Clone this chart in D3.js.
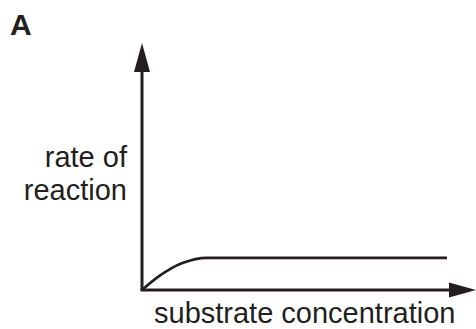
<!DOCTYPE html>
<html>
<head>
<meta charset="utf-8">
<script src="https://cdn.jsdelivr.net/npm/d3@7"></script>
<style>
  body { margin: 0; background: #fff; }
  svg { display: block; }
  text { font-family: "Liberation Sans", Arial, sans-serif; fill: #231f20; }
</style>
</head>
<body>
<div id="chart"></div>
<script>
// curve (arbitrary units)
var substrate = [0, 0.4, 0.7, 1.0, 1.3, 1.6, 1.95, 9.13];
var rate      = [0, 0.45, 0.73, 0.97, 1.13, 1.25, 1.3, 1.3];
var panelLabel = "A";
var yLabel = ["rate of", "reaction"];
var xLabel = "substrate concentration";

var W = 476, H = 329;
var ink = "#231f20";

var svg = d3.select("#chart").append("svg").attr("width", W).attr("height", H);

var x = d3.scaleLinear().domain([0, 10]).range([142, 476]);
var y = d3.scaleLinear().domain([0, 10]).range([290, 43]);

// axes with arrow heads
var g = svg.append("g");
g.append("line")
  .attr("x1", x(0)).attr("y1", y(0)).attr("x2", x(0)).attr("y2", y(10) + 20)
  .attr("stroke", ink).attr("stroke-width", 3);
g.append("line")
  .attr("x1", x(0) - 1.5).attr("y1", y(0)).attr("x2", x(10) - 20).attr("y2", y(0))
  .attr("stroke", ink).attr("stroke-width", 3);
g.append("path")
  .attr("d", "M" + x(0) + "," + y(10) + " L" + (x(0) + 8) + "," + (y(10) + 29) +
             " L" + (x(0) - 8) + "," + (y(10) + 29) + "Z")
  .attr("fill", ink);
g.append("path")
  .attr("d", "M" + x(10) + "," + y(0) + " L" + (x(10) - 27) + "," + (y(0) - 7.5) +
             " L" + (x(10) - 27) + "," + (y(0) + 7.5) + "Z")
  .attr("fill", ink);

// curve
var data = substrate.map(function(s, i) { return {s: s, r: rate[i]}; });
var line = d3.line()
  .x(function(d) { return x(d.s); })
  .y(function(d) { return y(d.r); })
  .curve(d3.curveMonotoneX);
svg.append("path")
  .datum(data)
  .attr("fill", "none")
  .attr("stroke", ink)
  .attr("stroke-width", 2.6)
  .attr("d", line);

// labels
svg.append("text").attr("x", 10).attr("y", 35)
  .attr("font-size", 30).attr("font-weight", "bold").text(panelLabel);

svg.selectAll(".ylab").data(yLabel).enter().append("text")
  .attr("class", "ylab")
  .attr("x", 127)
  .attr("y", function(d, i) { return 167 + i * 33; })
  .attr("text-anchor", "end")
  .attr("font-size", 29)
  .text(function(d) { return d; });

svg.append("text").attr("x", 154).attr("y", 323)
  .attr("font-size", 29).text(xLabel);
</script>
</body>
</html>
